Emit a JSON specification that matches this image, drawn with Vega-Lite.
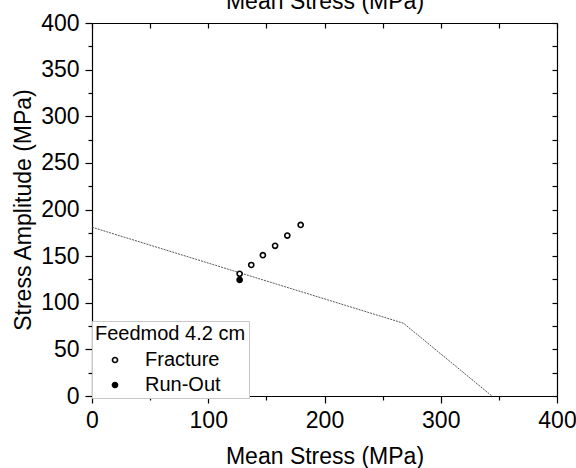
{
  "$schema": "https://vega.github.io/schema/vega-lite/v6.json",
  "width": 465,
  "height": 373,
  "autosize": {"type": "none"},
  "padding": {"left": 92, "top": 23, "right": 19, "bottom": 72},
  "background": "white",
  "config": {
    "view": {"stroke": null},
    "font": "Liberation Sans",
    "axis": {
      "grid": false,
      "domainColor": "black",
      "tickColor": "black",
      "domainWidth": 1.2,
      "tickWidth": 1.2,
      "labelFont": "Liberation Sans",
      "titleFont": "Liberation Sans",
      "labelFontSize": 23,
      "titleFontSize": 23,
      "labelColor": "black",
      "titleColor": "black",
      "titleFontWeight": "normal",
      "labelOverlap": false,
      "labelFlush": false
    }
  },
  "layer": [
    {
      "data": {"values": [
        {"mean": 0, "amp": 181},
        {"mean": 268, "amp": 78},
        {"mean": 344, "amp": 0}
      ]},
      "mark": {"type": "line", "color": "#444444", "strokeWidth": 0.9, "strokeDash": [2, 1]},
      "encoding": {
        "x": {
          "field": "mean", "type": "quantitative",
          "scale": {"domain": [0, 400], "nice": false, "zero": false},
          "axis": {
            "orient": "bottom",
            "values": [0, 50, 100, 150, 200, 250, 300, 350, 400],
            "tickSize": {"condition": {"test": "datum.value % 100 === 0", "value": 7}, "value": 4},
            "labelExpr": "datum.value % 100 === 0 ? datum.label : ''",
            "labelPadding": 6,
            "title": "Mean Stress (MPa)",
            "titleY": 67,
            "titleBaseline": "alphabetic"
          }
        },
        "y": {
          "field": "amp", "type": "quantitative",
          "scale": {"domain": [0, 400], "nice": false, "zero": false},
          "axis": {
            "orient": "left",
            "values": [0, 25, 50, 75, 100, 125, 150, 175, 200, 225, 250, 275, 300, 325, 350, 375, 400],
            "tickSize": {"condition": {"test": "datum.value % 50 === 0", "value": 7}, "value": 4},
            "labelExpr": "datum.value % 50 === 0 ? datum.label : ''",
            "labelPadding": 6,
            "title": "Stress Amplitude (MPa)",
            "titleX": -62,
            "titleBaseline": "alphabetic"
          }
        }
      }
    },
    {
      "data": {"values": [
        {"mean": 127, "amp": 131, "type": "Fracture"},
        {"mean": 137, "amp": 140.5, "type": "Fracture"},
        {"mean": 147, "amp": 151, "type": "Fracture"},
        {"mean": 157.5, "amp": 161, "type": "Fracture"},
        {"mean": 168, "amp": 172, "type": "Fracture"},
        {"mean": 179.5, "amp": 183.5, "type": "Fracture"},
        {"mean": 127, "amp": 124.5, "type": "Run-Out"}
      ]},
      "mark": {"type": "point", "shape": "circle", "filled": true, "stroke": "black", "strokeWidth": 1.6, "size": 26, "opacity": 1},
      "encoding": {
        "x": {
          "field": "mean", "type": "quantitative",
          "scale": {"domain": [0, 400], "nice": false, "zero": false},
          "axis": {
            "orient": "top",
            "values": [0, 50, 100, 150, 200, 250, 300, 350, 400],
            "tickSize": -5,
            "labels": false,
            "title": "Mean Stress (MPa)",
            "titleY": -15,
            "titleBaseline": "alphabetic"
          }
        },
        "y": {
          "field": "amp", "type": "quantitative",
          "scale": {"domain": [0, 400], "nice": false, "zero": false},
          "axis": {
            "orient": "right",
            "values": [0, 25, 50, 75, 100, 125, 150, 175, 200, 225, 250, 275, 300, 325, 350, 375, 400],
            "tickSize": -5,
            "labels": false,
            "title": null
          }
        },
        "fill": {
          "field": "type", "type": "nominal",
          "scale": {"domain": ["Fracture", "Run-Out"], "range": ["white", "black"]},
          "legend": {
            "title": "Feedmod 4.2 cm",
            "orient": "none",
            "legendX": 0,
            "legendY": 298,
            "direction": "vertical",
            "titleFont": "Liberation Sans",
            "titleFontSize": 20,
            "titleFontWeight": "normal",
            "titleColor": "black",
            "titlePadding": 6,
            "labelFont": "Liberation Sans",
            "labelFontSize": 20,
            "labelColor": "black",
            "labelOffset": 20,
            "symbolType": "circle",
            "symbolSize": 26,
            "symbolStrokeColor": "black",
            "symbolStrokeWidth": 1.6,
            "symbolOffset": 10,
            "rowPadding": 5,
            "padding": 3,
            "strokeColor": "#c8c8c8",
            "fillColor": "white"
          }
        }
      }
    }
  ],
  "resolve": {"axis": {"x": "independent", "y": "independent"}}
}
